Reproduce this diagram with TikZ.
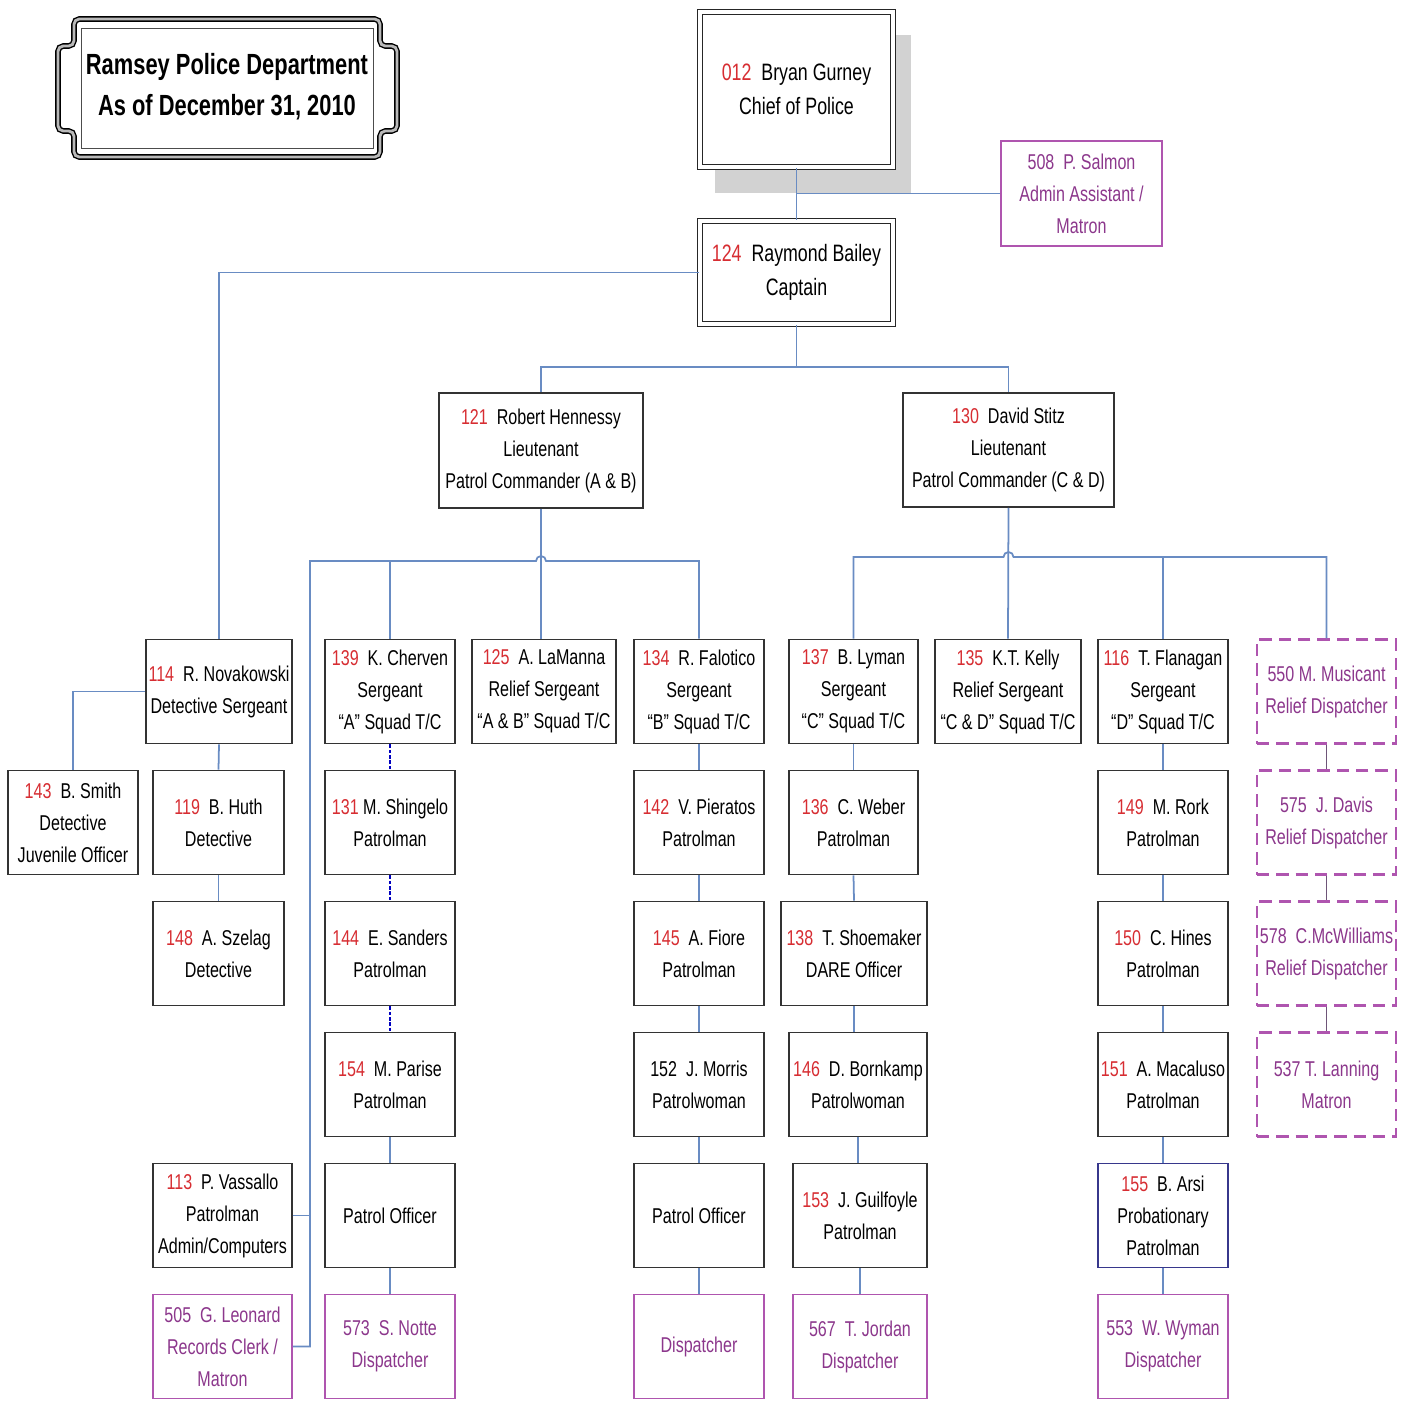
\documentclass[tikz,border=0pt]{standalone}
\usepackage{fontspec}
\setmainfont{Liberation Sans}[FakeStretch=0.75]
\usetikzlibrary{positioning}

\definecolor{idred}{RGB}{215,45,50}
\definecolor{linkblue}{RGB}{105,140,195}
\definecolor{staffpurple}{RGB}{140,55,140}
\definecolor{staffline}{RGB}{175,85,175}
\definecolor{probnavy}{RGB}{55,55,140}
\definecolor{relayline}{RGB}{110,85,120}

\newcommand{\idno}[1]{\textcolor{idred}{#1}}

\begin{document}
\begin{tikzpicture}[
    box/.style={draw=black!80, line width=1.1pt, fill=white, align=center, inner sep=1pt,
        minimum height=2.08cm, font=\fontsize{12.2}{18.2}\selectfont},
    headbox/.style={box, draw=black!85, line width=0.9pt, double=white, double distance=1.8pt,
        font=\fontsize{13.5}{19.3}\selectfont},
    staffbox/.style={box, draw=staffline, text=staffpurple},
    reliefbox/.style={staffbox, dash pattern=on 7pt off 4pt, line width=1.2pt},
    conn/.style={draw=linkblue, line width=1pt},
    squadconn/.style={draw=blue!75!black, line width=1pt, dash pattern=on 2pt off 1pt},
    reliefconn/.style={draw=relayline, line width=1pt},
    frame/.style={draw=black, line width=0.8pt, double=gray!55, double distance=1.6pt, rounded corners=3pt}
]
\useasboundingbox (0,0) rectangle (28.08,-28.02);

% title plate
\draw[frame] (4.54,-0.38) -- (7.60,-0.38) |- (7.94,-0.92) -- (7.94,-2.62) -| (7.60,-3.14)
    -- (1.48,-3.14) |- (1.16,-2.62) -- (1.16,-0.92) -| (1.48,-0.38) -- cycle;
\draw[black!70, line width=0.5pt] (1.62,-0.56) rectangle (7.46,-2.96);
\node[align=center, font=\bfseries\fontsize{16.6}{23.3}\selectfont] (title) at (4.54,-1.73)
    {Ramsey Police Department\\As of December 31, 2010};

% command staff
\fill[gray!35] (14.30,-0.70) rectangle (18.22,-3.86);
\node[headbox, minimum width=3.86cm, minimum height=3.10cm] (chief) at (15.93,-1.79)
    {\idno{012}\ \ Bryan Gurney\\Chief of Police};
\node[headbox, minimum width=3.86cm, minimum height=2.06cm] (capt) at (15.93,-5.45)
    {\idno{124}\ \ Raymond Bailey\\Captain};
\node[staffbox, minimum width=3.22cm, minimum height=2.10cm] (salmon) at (21.63,-3.87)
    {508\ \ P. Salmon\\Admin Assistant /\\Matron};
\node[box, minimum width=4.08cm, minimum height=2.30cm] (hen) at (10.82,-9.01)
    {\idno{121}\ \ Robert Hennessy\\Lieutenant\\Patrol Commander (A \& B)};
\node[box, minimum width=4.22cm, minimum height=2.28cm] (stitz) at (20.17,-9.00)
    {\idno{130}\ \ David Stitz\\Lieutenant\\Patrol Commander (C \& D)};

% row 1
\node[box, minimum width=2.92cm] (nov) at (4.38,-13.83) {\idno{114}\ \ R. Novakowski\\Detective Sergeant};
\node[box, minimum width=2.60cm] (cher) at (7.80,-13.83) {\idno{139}\ \ K. Cherven\\Sergeant\\“A” Squad T/C};
\node[box, minimum width=2.88cm] (lam) at (10.88,-13.83) {\idno{125}\ \ A. LaManna\\Relief Sergeant\\“A \& B” Squad T/C};
\node[box, minimum width=2.60cm] (fal) at (13.98,-13.83) {\idno{134}\ \ R. Falotico\\Sergeant\\“B” Squad T/C};
\node[box, minimum width=2.58cm] (lym) at (17.07,-13.83) {\idno{137}\ \ B. Lyman\\Sergeant\\“C” Squad T/C};
\node[box, minimum width=2.92cm] (kel) at (20.16,-13.83) {\idno{135}\ \ K.T. Kelly\\Relief Sergeant\\“C \& D” Squad T/C};
\node[box, minimum width=2.60cm] (flan) at (23.26,-13.83) {\idno{116}\ \ T. Flanagan\\Sergeant\\“D” Squad T/C};
\node[reliefbox, minimum width=2.78cm] (mus) at (26.53,-13.83) {550 M. Musicant\\Relief Dispatcher};

% row 2
\node[box, minimum width=2.60cm] (smith) at (1.46,-16.45) {\idno{143}\ \ B. Smith\\Detective\\Juvenile Officer};
\node[box, minimum width=2.62cm] (huth) at (4.37,-16.45) {\idno{119}\ \ B. Huth\\Detective};
\node[box, minimum width=2.60cm] (shin) at (7.80,-16.45) {\idno{131} M. Shingelo\\Patrolman};
\node[box, minimum width=2.60cm] (pie) at (13.98,-16.45) {\idno{142}\ \ V. Pieratos\\Patrolman};
\node[box, minimum width=2.58cm] (web) at (17.07,-16.45) {\idno{136}\ \ C. Weber\\Patrolman};
\node[box, minimum width=2.60cm] (rork) at (23.26,-16.45) {\idno{149}\ \ M. Rork\\Patrolman};
\node[reliefbox, minimum width=2.78cm] (dav) at (26.53,-16.45) {575\ \ J. Davis\\Relief Dispatcher};

% row 3
\node[box, minimum width=2.62cm] (sze) at (4.37,-19.07) {\idno{148}\ \ A. Szelag\\Detective};
\node[box, minimum width=2.60cm] (san) at (7.80,-19.07) {\idno{144}\ \ E. Sanders\\Patrolman};
\node[box, minimum width=2.60cm] (fio) at (13.98,-19.07) {\idno{145}\ \ A. Fiore\\Patrolman};
\node[box, minimum width=2.92cm] (sho) at (17.08,-19.07) {\idno{138}\ \ T. Shoemaker\\DARE Officer};
\node[box, minimum width=2.60cm] (hin) at (23.26,-19.07) {\idno{150}\ \ C. Hines\\Patrolman};
\node[reliefbox, minimum width=2.78cm] (mcw) at (26.53,-19.07) {578\ \ C.McWilliams\\Relief Dispatcher};

% row 4
\node[box, minimum width=2.60cm] (par) at (7.80,-21.69) {\idno{154}\ \ M. Parise\\Patrolman};
\node[box, minimum width=2.60cm] (mor) at (13.98,-21.69) {152\ \ J. Morris\\Patrolwoman};
\node[box, minimum width=2.76cm] (bor) at (17.16,-21.69) {\idno{146}\ \ D. Bornkamp\\Patrolwoman};
\node[box, minimum width=2.60cm] (mac) at (23.26,-21.69) {\idno{151}\ \ A. Macaluso\\Patrolman};
\node[reliefbox, minimum width=2.78cm] (lan) at (26.53,-21.69) {537 T. Lanning\\Matron};

% row 5
\node[box, minimum width=2.78cm] (vas) at (4.45,-24.31) {\idno{113}\ \ P. Vassallo\\Patrolman\\Admin/Computers};
\node[box, minimum width=2.60cm] (poa) at (7.80,-24.31) {Patrol Officer};
\node[box, minimum width=2.60cm] (pob) at (13.98,-24.31) {Patrol Officer};
\node[box, minimum width=2.68cm] (gui) at (17.20,-24.31) {\idno{153}\ \ J. Guilfoyle\\Patrolman};
\node[box, draw=probnavy, minimum width=2.60cm] (arsi) at (23.26,-24.31) {\idno{155}\ \ B. Arsi\\Probationary\\Patrolman};

% row 6
\node[staffbox, minimum width=2.78cm] (leo) at (4.45,-26.93) {505\ \ G. Leonard\\Records Clerk /\\Matron};
\node[staffbox, minimum width=2.60cm] (notte) at (7.80,-26.93) {573\ \ S. Notte\\Dispatcher};
\node[staffbox, minimum width=2.60cm] (disp) at (13.98,-26.93) {Dispatcher};
\node[staffbox, minimum width=2.68cm] (jor) at (17.20,-26.93) {567\ \ T. Jordan\\Dispatcher};
\node[staffbox, minimum width=2.60cm] (wym) at (23.26,-26.93) {553\ \ W. Wyman\\Dispatcher};

% chain of command
\draw[conn] (chief.south) -- (capt.north);
\draw[conn] (salmon.west) -- (salmon.west -| chief.south);
\draw[conn] (capt.west) -| (nov.north);
\draw[conn] (capt.south) -- ++(0,-0.84) coordinate (ltbus);
\draw[conn] (hen.north) |- (ltbus) -| (stitz.north);

% A and B squads
\coordinate (abus) at (6.20,-11.22);
\coordinate (hopab) at (hen.south |- abus);
\draw[conn] (hen.south) -- (lam.north -| hen.south);
\draw[conn] (leo.east) -| (abus) -- ([xshift=-0.1cm]hopab) arc[start angle=180, end angle=0, radius=0.1cm] -| (fal.north);
\draw[conn] (vas.east) -- (vas.east -| abus);
\draw[conn] (cher.north) -- (cher.north |- abus);

% C and D squads
\coordinate (cdbus) at (17.07,-11.14);
\coordinate (hopcd) at (stitz.south |- cdbus);
\draw[conn] (stitz.south) -- (kel.north);
\draw[conn] (lym.north) |- ([xshift=-0.1cm]hopcd) arc[start angle=180, end angle=0, radius=0.1cm] -| (mus.north);
\draw[conn] (flan.north) -- (flan.north |- cdbus);

% detectives
\draw[conn] (nov.west) -| (smith.north);
\draw[conn] (nov.south) -- (huth.north);
\draw[conn] (huth.south) -- (sze.north);

% squad columns
\draw[squadconn] (cher.south) -- (shin.north);
\draw[squadconn] (shin.south) -- (san.north);
\draw[squadconn] (san.south) -- (par.north);
\draw[conn] (par.south) -- (poa.north);
\draw[conn] (poa.south) -- (notte.north);

\draw[conn] (fal.south) -- (pie.north);
\draw[conn] (pie.south) -- (fio.north);
\draw[conn] (fio.south) -- (mor.north);
\draw[conn] (mor.south) -- (pob.north);
\draw[conn] (pob.south) -- (disp.north);

\draw[conn] (lym.south) -- (web.north);
\draw[conn] (web.south) -- (sho.north);
\draw[conn] (sho.south) -- (sho.south |- bor.north);
\draw[conn] (bor.south) -- (bor.south |- gui.north);
\draw[conn] (gui.south) -- (jor.north);

\draw[conn] (flan.south) -- (rork.north);
\draw[conn] (rork.south) -- (hin.north);
\draw[conn] (hin.south) -- (mac.north);
\draw[conn] (mac.south) -- (arsi.north);
\draw[conn] (arsi.south) -- (wym.north);

% relief dispatchers
\draw[reliefconn] (mus.south) -- (dav.north);
\draw[reliefconn] (dav.south) -- (mcw.north);
\draw[reliefconn] (mcw.south) -- (lan.north);
\end{tikzpicture}
\end{document}
